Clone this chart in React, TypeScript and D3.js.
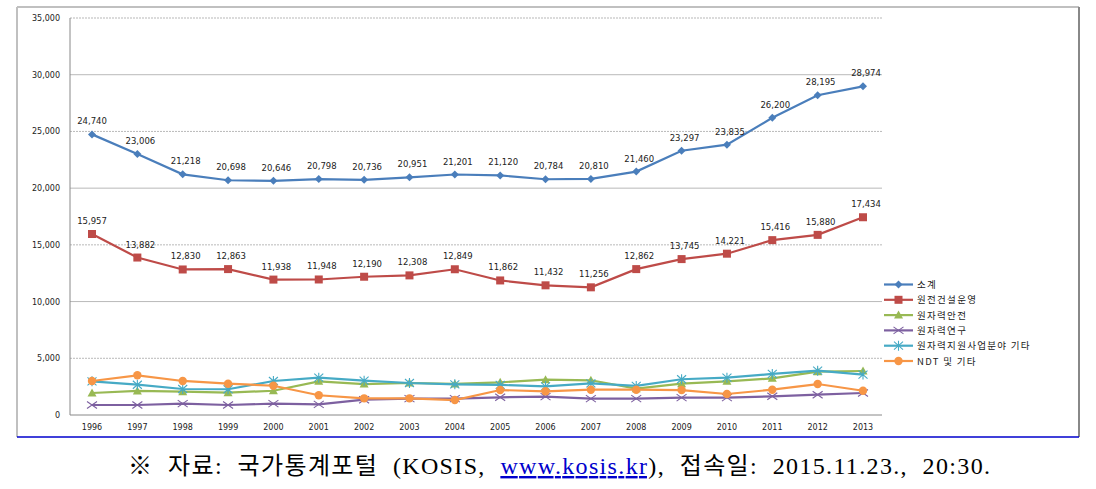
import React from "react";
import * as d3 from "d3";

const years = ["1996","1997","1998","1999","2000","2001","2002","2003","2004","2005","2006","2007","2008","2009","2010","2011","2012","2013"];
const subtotal = [24740,23006,21218,20698,20646,20798,20736,20951,21201,21120,20784,20810,21460,23297,23835,26200,28195,28974];
const construction = [15957,13882,12830,12863,11938,11948,12190,12308,12849,11862,11432,11256,12862,13745,14221,15416,15880,17434];
const safety = [1940,2120,2060,1970,2140,2970,2730,2820,2740,2880,3110,3060,2320,2760,2970,3230,3820,3880];
const research = [880,880,1000,880,1000,940,1350,1440,1440,1560,1620,1440,1440,1530,1530,1650,1790,1940];
const support = [2970,2670,2290,2270,3000,3290,3030,2820,2700,2650,2530,2790,2560,3150,3290,3620,3910,3560];
const ndt = [3000,3500,3000,2760,2580,1740,1470,1470,1320,2200,2090,2230,2230,2200,1850,2230,2730,2140];
const yTicks = [0,5000,10000,15000,20000,25000,30000,35000];
const seriesNames = ["소계","원전건설운영","원자력안전","원자력연구","원자력지원사업분야 기타","NDT 및 기타"];
const seriesColors = ["#4A7EBB","#BE4B48","#98B954","#7D60A0","#46AAC5","#F79646"];
const seriesMarkers = ["diamond","square","triangle","x","star","circle"];
const seriesData = [subtotal, construction, safety, research, support, ndt];
const labeled = [true, true, false, false, false, false];

function Marker({ type, x, y, color }: { type: string; x: number; y: number; color: string }) {
  if (type === "diamond") return <path d={`M${x},${y-4}L${x+4},${y}L${x},${y+4}L${x-4},${y}Z`} fill={color} />;
  if (type === "square") return <rect x={x-4} y={y-4} width={8} height={8} fill={color} />;
  if (type === "triangle") return <path d={`M${x},${y-4.5}L${x+4.5},${y+3.5}L${x-4.5},${y+3.5}Z`} fill={color} />;
  if (type === "circle") return <circle cx={x} cy={y} r={4.2} fill={color} />;
  if (type === "x") return <path d={`M${x-5},${y-3.5}L${x+5},${y+3.5}M${x-5},${y+3.5}L${x+5},${y-3.5}`} stroke={color} strokeWidth={1.1} fill="none" />;
  return <path d={`M${x-4.5},${y-4}L${x+4.5},${y+4}M${x-4.5},${y+4}L${x+4.5},${y-4}M${x},${y-5}L${x},${y+5}`} stroke={color} strokeWidth={1.1} fill="none" />;
}

export default function App() {
  const W = 1096, H = 489;
  const left = 70, right = 882, top = 18, bottom = 415;
  const x = d3.scalePoint<string>().domain(years).range([92, 863]);
  const y = d3.scaleLinear().domain([0, 35000]).range([bottom, top]);
  const line = d3.line<number>().x((_, i) => x(years[i]) as number).y(v => y(v));
  const fmt = d3.format(",");
  const axisFont = "'DejaVu Sans', Verdana, sans-serif";
  return (
    <svg width={W} height={H} style={{ position: "absolute", left: 0, top: 0 }}>
      <rect x={0} y={0} width={W} height={H} fill="#fff" />
      <rect x={17} y={7} width={1062} height={430} fill="#fff" />
      <line x1={17} y1={7} x2={1079} y2={7} stroke="#c0c0c0" strokeWidth={2} />
      <line x1={17} y1={7} x2={17} y2={437} stroke="#c0c0c0" strokeWidth={2} />
      <line x1={1079} y1={7} x2={1079} y2={437} stroke="#888" strokeWidth={2} />
      <line x1={17} y1={437} x2={1079} y2={437} stroke="#0000cc" strokeWidth={1.5} />
      {yTicks.map(t => (
        <g key={t}>
          {t > 0 && <line x1={left} x2={right} y1={y(t)} y2={y(t)} stroke="#999" strokeDasharray={t % 10000 === 5000 ? "2,1" : "none"} strokeWidth={0.7} />}
          <text x={60} y={y(t) + 3} textAnchor="end" fontSize={8} fontFamily={axisFont} fill="#222">{fmt(t)}</text>
        </g>
      ))}
      <line x1={left} x2={left} y1={top} y2={bottom} stroke="#888" strokeWidth={1} />
      <line x1={left} x2={right} y1={bottom} y2={bottom} stroke="#888" strokeWidth={1} />
      {years.map(yr => (
        <text key={yr} x={x(yr)} y={430} textAnchor="middle" fontSize={8} fontFamily={axisFont} fill="#222">{yr}</text>
      ))}
      {seriesData.map((data, si) => (
        <g key={si}>
          <path d={line(data) || ""} fill="none" stroke={seriesColors[si]} strokeWidth={2.2} />
          {data.map((v, i) => <Marker key={i} type={seriesMarkers[si]} x={x(years[i]) as number} y={y(v)} color={seriesColors[si]} />)}
          {labeled[si] && data.map((v, i) => (
            <text key={"l" + i} x={(x(years[i]) as number) + (i === 0 ? 0 : 3)} y={y(v) - 10} textAnchor="middle" fontSize={8.5} fontFamily={axisFont} fill="#222">{fmt(v)}</text>
          ))}
        </g>
      ))}
      {seriesNames.map((n, i) => {
        const ly = 284.5 + i * 15.3;
        return (
          <g key={n}>
            <line x1={884} x2={913} y1={ly} y2={ly} stroke={seriesColors[i]} strokeWidth={2.2} />
            <Marker type={seriesMarkers[i]} x={898.5} y={ly} color={seriesColors[i]} />
            <text x={917} y={ly + 3.5} fontSize={9.5} letterSpacing={1.3} fontFamily="'Noto Sans CJK KR', sans-serif" fill="#222">{n}</text>
          </g>
        );
      })}
      <text x={128} y={474} textLength={862} lengthAdjust="spacing" fontSize={24} fontFamily="'Liberation Serif', 'Noto Sans CJK KR', serif" fill="#000" style={{ whiteSpace: "pre" }}>
        <tspan>※  자료:  국가통계포털  (KOSIS,  </tspan>
        <tspan fill="#0000cc" textDecoration="underline">www.kosis.kr</tspan>
        <tspan>),  접속일:  2015.11.23.,  20:30.</tspan>
      </text>
    </svg>
  );
}
